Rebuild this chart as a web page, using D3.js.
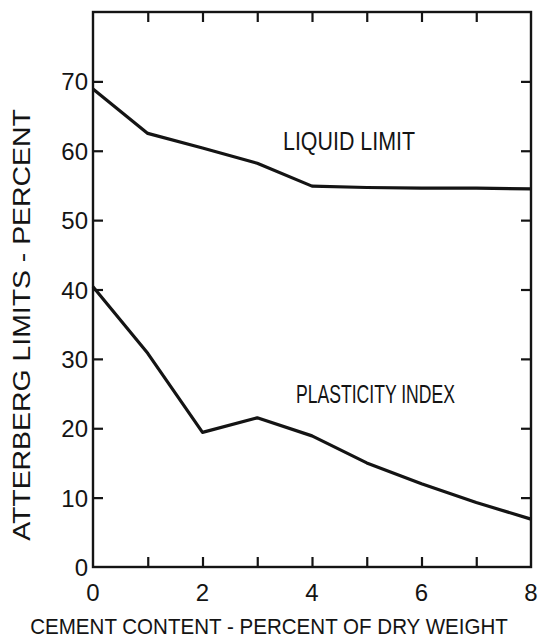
<!DOCTYPE html>
<html>
<head>
<meta charset="utf-8">
<script src="https://cdn.jsdelivr.net/npm/d3@7"></script>
<style>
  html, body { margin: 0; padding: 0; background: #fff; }
  svg { display: block; }
  text { font-family: "Liberation Sans", Arial, sans-serif; fill: #141414; }
</style>
</head>
<body>
<svg id="chart" width="538" height="644"></svg>
<script>
// Cement content (percent of dry weight)
const cementContent = [0, 1, 2, 3, 4, 5, 6, 7, 8];
// Atterberg limits (percent)
const liquidLimit = [68.9, 62.5, 60.4, 58.2, 54.9, 54.7, 54.6, 54.6, 54.5];
const plasticityIndex = [40.4, 30.8, 19.4, 21.5, 18.9, 15.0, 12.0, 9.3, 6.9];

const xTickLabels = [0, 2, 4, 6, 8];
const xMinorTicks = [1, 2, 3, 4, 5, 6, 7];
const yTickLabels = [0, 10, 20, 30, 40, 50, 60, 70];
const yInnerTicks = [10, 20, 30, 40, 50, 60, 70];

const seriesLabels = ["LIQUID LIMIT", "PLASTICITY INDEX"];
const xTitle = "CEMENT CONTENT - PERCENT OF DRY WEIGHT";
const yTitle = "ATTERBERG LIMITS - PERCENT";

(function draw() {
  const svg = d3.select("#chart");
  const ink = "#141414";

  const plotLeft = 93, plotRight = 531, plotTop = 12, plotBottom = 567;

  const x = d3.scaleLinear().domain([0, 8]).range([plotLeft, plotRight]);
  const y = d3.scaleLinear().domain([0, 80]).range([plotBottom, plotTop]);

  const tickLen = 10;

  // Frame
  svg.append("rect")
    .attr("x", plotLeft).attr("y", plotTop)
    .attr("width", plotRight - plotLeft).attr("height", plotBottom - plotTop)
    .attr("fill", "none").attr("stroke", ink).attr("stroke-width", 2.4);

  // Inward ticks on all four sides
  const axisB = d3.axisBottom(x).tickValues(xMinorTicks).tickSize(-tickLen).tickFormat("");
  const axisT = d3.axisTop(x).tickValues(xMinorTicks).tickSize(-tickLen).tickFormat("");
  const axisL = d3.axisLeft(y).tickValues(yInnerTicks).tickSize(-tickLen).tickFormat("");
  const axisR = d3.axisRight(y).tickValues(yInnerTicks).tickSize(-tickLen).tickFormat("");

  function styleAxis(g) {
    g.select(".domain").remove();
    g.selectAll(".tick line").attr("stroke", ink).attr("stroke-width", 2.2);
  }
  svg.append("g").attr("transform", `translate(0,${plotBottom})`).call(axisB).call(styleAxis);
  svg.append("g").attr("transform", `translate(0,${plotTop})`).call(axisT).call(styleAxis);
  svg.append("g").attr("transform", `translate(${plotLeft},0)`).call(axisL).call(styleAxis);
  svg.append("g").attr("transform", `translate(${plotRight},0)`).call(axisR).call(styleAxis);

  // Tick labels
  svg.append("g").selectAll("text").data(xTickLabels).join("text")
    .attr("x", d => x(d)).attr("y", 601)
    .attr("text-anchor", "middle")
    .attr("font-size", 24)
    .text(d => d);

  svg.append("g").selectAll("text").data(yTickLabels).join("text")
    .attr("x", plotLeft - 5).attr("y", d => y(d) + 9)
    .attr("text-anchor", "end")
    .attr("font-size", 24)
    .text(d => d);

  // Curves
  const line = d3.line().x((d, i) => x(cementContent[i])).y(d => y(d));
  [liquidLimit, plasticityIndex].forEach(s => {
    svg.append("path")
      .datum(s)
      .attr("d", line)
      .attr("fill", "none")
      .attr("stroke", ink)
      .attr("stroke-width", 3.2)
      .attr("stroke-linejoin", "round");
  });

  // Condensed lettering: squeeze a label horizontally to a target width
  function condensedText(str, px, py, size, width, rotate) {
    const g = svg.append("g");
    const t = g.append("text")
      .attr("font-size", size)
      .attr("text-anchor", "middle")
      .text(str);
    const natural = t.node().getComputedTextLength();
    const k = width / natural;
    g.attr("transform", `translate(${px},${py}) rotate(${rotate || 0}) scale(${k},1)`);
    return t;
  }

  // Curve labels (positioned by centre)
  condensedText(seriesLabels[0], 283 + 66, 150, 25, 132);
  condensedText(seriesLabels[1], 296 + 79.5, 403, 25, 159);

  // Axis titles
  condensedText(xTitle, 30 + 239, 634, 22, 478);
  condensedText(yTitle, 30, 325, 23, 432, -90);
})();
</script>
</body>
</html>
